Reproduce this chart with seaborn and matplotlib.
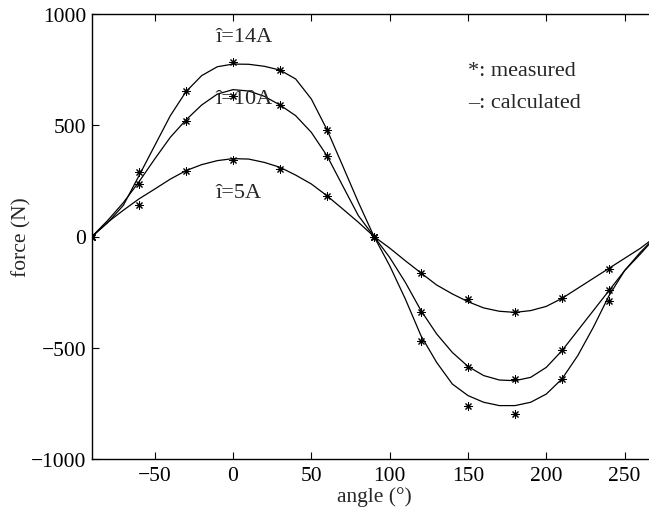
import matplotlib
matplotlib.use("Agg")
import matplotlib.pyplot as plt
import seaborn as sns
import pandas as pd

# measured points
meas_angle = [-90, -60, -30, 0, 30, 60, 90, 120, 150, 180, 210, 240]
meas_5A = [0, 143, 293, 345, 305, 180, 0, -164, -283, -340, -276, -146]
meas_10A = [0, 238, 518, 632, 591, 362, 0, -341, -588, -640, -512, -242]
meas_14A = [0, 292, 655, 786, 750, 478, 0, -469, -760, -798, -640, -292]

# calculated curves (read at 10 degree steps)
calc_angle = [-90, -80, -70, -60, -50, -40, -30, -20, -10, 0, 10, 20, 30, 40, 50, 60, 70, 80, 90,
              100, 110, 120, 130, 140, 150, 160, 170, 180, 190, 200, 210, 220, 230, 240, 250, 260, 270]
calc_5A = [0, 64, 118, 169, 213, 258, 296, 323, 341, 350, 348, 333, 311, 276, 236, 183, 124, 64, 0,
           -52, -109, -164, -218, -258, -293, -321, -336, -341, -333, -314, -278, -233, -188, -143, -98, -53, 0]
calc_10A = [0, 72, 152, 246, 348, 446, 524, 591, 640, 660, 654, 630, 591, 543, 468, 363, 228, 94, 0,
            -94, -206, -333, -438, -521, -584, -625, -645, -648, -633, -588, -513, -423, -333, -243, -153, -79, 0]
calc_14A = [0, 62, 140, 273, 408, 543, 651, 723, 763, 775, 774, 765, 748, 708, 618, 480, 318, 154, 0,
            -131, -281, -446, -566, -663, -715, -745, -760, -760, -745, -708, -640, -536, -408, -266, -153, -71, 0]

series_names = ["î=5A", "î=10A", "î=14A"]

meas_df = pd.concat([
    pd.DataFrame({"angle": meas_angle, "force": v, "series": n})
    for n, v in zip(series_names, [meas_5A, meas_10A, meas_14A])
])
calc_df = pd.concat([
    pd.DataFrame({"angle": calc_angle, "force": v, "series": n})
    for n, v in zip(series_names, [calc_5A, calc_10A, calc_14A])
])

sns.set_style("white")
plt.rcParams["font.family"] = ["Liberation Serif", "DejaVu Serif"]
plt.rcParams["axes.unicode_minus"] = True

FS = 15.5

fig = plt.figure(figsize=(6.49, 5.10), dpi=100)
ax = fig.add_axes([92 / 649, 50 / 510, 564 / 649, 445 / 510])

sns.lineplot(data=calc_df, x="angle", y="force", units="series", estimator=None,
             color="black", linewidth=0.9, ax=ax, sort=True)
sns.scatterplot(data=meas_df, x="angle", y="force", marker=(8, 2, 0), s=28,
                color="black", linewidth=0.75, ax=ax, zorder=3)

ax.set_xlim(-90, 270)
ax.set_ylim(-1000, 1000)
ax.set_xticks([-50, 0, 50, 100, 150, 200, 250])
ax.set_yticks([-1000, -500, 0, 500, 1000])
ax.tick_params(direction="in", length=5, width=0.8, labelsize=FS, colors="black",
               top=True, right=True, bottom=True, left=True)
ax.tick_params(axis="x", pad=5)
ax.tick_params(axis="y", pad=4)
for s in ax.spines.values():
    s.set_color("black")
    s.set_linewidth(1.0)

ax.set_xlabel("angle (°)", fontsize=FS, labelpad=1)
ax.set_ylabel("force (N)", fontsize=FS, labelpad=0)

ax.text(-11.5, 897, "î=14A", ha="left", va="center", fontsize=FS + 0.5)
ax.text(-11.5, 618, "î=10A", ha="left", va="center", fontsize=FS + 0.5)
ax.text(-11.5, 200, "î=5A", ha="left", va="center", fontsize=FS + 0.5)
ax.text(150.3, 745, "*: measured", ha="left", va="center", fontsize=FS + 0.5)
ax.text(150.3, 604, "–: calculated", ha="left", va="center", fontsize=FS + 0.5)

fig.savefig("out.png", dpi=100)
